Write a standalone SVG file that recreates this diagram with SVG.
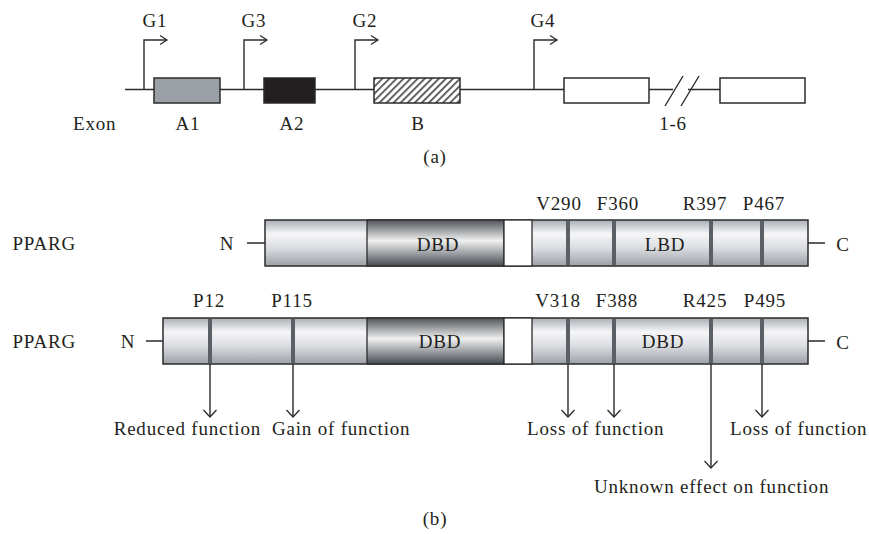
<svg xmlns="http://www.w3.org/2000/svg" width="869" height="534" viewBox="0 0 869 534">
<defs>
<style>
text{font-family:"Liberation Serif","Times New Roman",serif;font-size:19px;fill:#231f20;letter-spacing:0.8px}
.c{text-anchor:middle}
.e{text-anchor:end}
.ln{stroke:#2b2b2b;stroke-width:1.4;fill:none}
.box{stroke:#2b2b2b;stroke-width:1.5}
.seg{stroke:#2b2b2b;stroke-width:1.3}
.bar{fill:#5a6066}
</style>
<linearGradient id="lg" x1="0" y1="0" x2="0" y2="1">
<stop offset="0" stop-color="#a9aeb4"/>
<stop offset="0.3" stop-color="#f6f6f8"/>
<stop offset="0.6" stop-color="#dcdee2"/>
<stop offset="1" stop-color="#9ca1a7"/>
</linearGradient>
<linearGradient id="dg" x1="0" y1="0" x2="0" y2="1">
<stop offset="0" stop-color="#505459"/>
<stop offset="0.45" stop-color="#f0f0f0"/>
<stop offset="0.75" stop-color="#94989d"/>
<stop offset="1" stop-color="#464b50"/>
</linearGradient>
<pattern id="hatch" patternUnits="userSpaceOnUse" width="5" height="5" patternTransform="rotate(45)">
<rect width="5" height="5" fill="#ffffff"/>
<rect width="1.8" height="5" fill="#555555"/>
</pattern>
<marker id="ar" markerWidth="10" markerHeight="12" refX="8" refY="6" orient="auto" markerUnits="userSpaceOnUse">
<path d="M1,1.5 L8,6 L1,10.5" fill="none" stroke="#2b2b2b" stroke-width="1.3"/>
</marker>
<marker id="ad" markerWidth="10" markerHeight="16" refX="8" refY="7" orient="auto" markerUnits="userSpaceOnUse">
<path d="M1,0.5 L8,7 L1,13.5" fill="none" stroke="#2b2b2b" stroke-width="1.3"/>
</marker>
</defs>
<rect width="869" height="534" fill="#ffffff"/>

<g id="connectors">
<path class="ln" d="M125,89.5 H673 M688,89.5 H720"/>
<path class="ln" d="M665,106 L683,76 M681,106 L699,76"/>
<path class="ln" d="M144,89.5 V40 H167" marker-end="url(#ar)"/>
<path class="ln" d="M244,89.5 V40 H267" marker-end="url(#ar)"/>
<path class="ln" d="M355,89.5 V40 H378" marker-end="url(#ar)"/>
<path class="ln" d="M534,89.5 V40 H557" marker-end="url(#ar)"/>
<path class="ln" d="M247,243 H265 M808,243 H825"/>
<path class="ln" d="M146,341 H163 M808,341 H825"/>
<path class="ln" d="M210,364 V417" marker-end="url(#ad)"/>
<path class="ln" d="M293,364 V417" marker-end="url(#ad)"/>
<path class="ln" d="M568,364 V417" marker-end="url(#ad)"/>
<path class="ln" d="M614,364 V417" marker-end="url(#ad)"/>
<path class="ln" d="M711,364 V468" marker-end="url(#ad)"/>
<path class="ln" d="M762,364 V417" marker-end="url(#ad)"/>
</g>

<g id="gene">
<text x="73" y="130">Exon</text>
<g id="exonA1"><rect class="box" x="154" y="78" width="66" height="25" fill="#9aa0a6"/><text class="c" x="188" y="130">A1</text></g>
<g id="exonA2"><rect class="box" x="264" y="78" width="51" height="25" fill="#231f20"/><text class="c" x="292" y="130">A2</text></g>
<g id="exonB"><rect class="box" x="374" y="78" width="86" height="25" fill="url(#hatch)"/><text class="c" x="418" y="130">B</text></g>
<g id="exon1-6"><rect class="box" x="564" y="78" width="85" height="25" fill="#ffffff"/><rect class="box" x="720" y="78" width="85" height="25" fill="#ffffff"/><text class="c" x="673" y="130">1-6</text></g>
<g id="promoters">
<text class="c" x="155" y="27">G1</text>
<text class="c" x="254" y="27">G3</text>
<text class="c" x="365" y="27">G2</text>
<text class="c" x="543" y="27">G4</text>
</g>
<text class="c" x="435" y="163">(a)</text>
</g>

<g id="protein1">
<text class="e" x="76" y="250">PPARG</text>
<text class="c" x="227" y="250">N</text>
<text class="c" x="843" y="251">C</text>
<rect class="box" x="265" y="220" width="543" height="46" fill="url(#lg)"/>
<rect class="seg" x="367" y="220" width="137" height="46" fill="url(#dg)"/>
<rect class="seg" x="504" y="220" width="28" height="46" fill="#ffffff"/>
<rect class="bar" x="566" y="221" width="4" height="44"/>
<rect class="bar" x="612" y="221" width="4" height="44"/>
<rect class="bar" x="709" y="221" width="4" height="44"/>
<rect class="bar" x="760" y="221" width="4" height="44"/>
<text class="c" x="438" y="251">DBD</text>
<text class="c" x="665" y="251">LBD</text>
<text class="c" x="559" y="210">V290</text>
<text class="c" x="618" y="210">F360</text>
<text class="c" x="705" y="210">R397</text>
<text class="c" x="764" y="210">P467</text>
</g>

<g id="protein2">
<text class="e" x="76" y="348">PPARG</text>
<text class="c" x="128" y="348">N</text>
<text class="c" x="843" y="349">C</text>
<rect class="box" x="163" y="318" width="645" height="46" fill="url(#lg)"/>
<rect class="seg" x="367" y="318" width="137" height="46" fill="url(#dg)"/>
<rect class="seg" x="504" y="318" width="28" height="46" fill="#ffffff"/>
<rect class="bar" x="208" y="319" width="4" height="44"/>
<rect class="bar" x="291" y="319" width="4" height="44"/>
<rect class="bar" x="566" y="319" width="4" height="44"/>
<rect class="bar" x="612" y="319" width="4" height="44"/>
<rect class="bar" x="709" y="319" width="4" height="44"/>
<rect class="bar" x="760" y="319" width="4" height="44"/>
<text class="c" x="440" y="348">DBD</text>
<text class="c" x="663" y="348">DBD</text>
<text class="c" x="209" y="307">P12</text>
<text class="c" x="292" y="307">P115</text>
<text class="c" x="558" y="307">V318</text>
<text class="c" x="617" y="307">F388</text>
<text class="c" x="705" y="307">R425</text>
<text class="c" x="765" y="307">P495</text>
</g>

<g id="effects">
<text class="e" x="261" y="435">Reduced function</text>
<text x="272" y="435">Gain of function</text>
<text x="527" y="435">Loss of function</text>
<text x="730" y="435">Loss of function</text>
<text x="594" y="493">Unknown effect on function</text>
<text class="c" x="435" y="525">(b)</text>
</g>
</svg>
